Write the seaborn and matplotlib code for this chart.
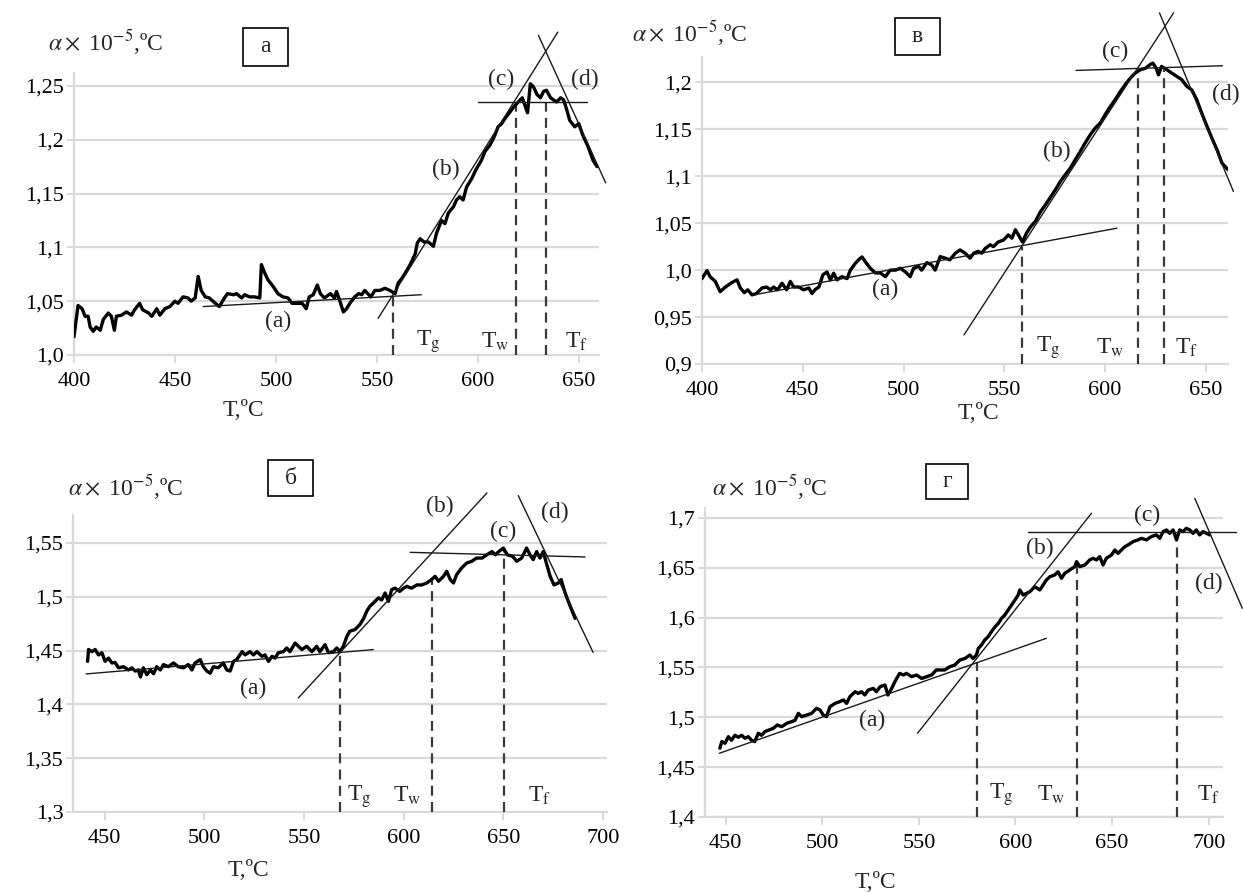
import pandas as pd
import matplotlib
matplotlib.use("Agg")
import matplotlib.pyplot as plt
from matplotlib.patches import Rectangle
import seaborn as sns

# ---- panel а ----
t_a = [400, 402, 404, 405.5, 407, 408, 409.5, 411, 413, 414.5, 417, 418.5, 420, 421, 423.5,
       426, 428.5, 430, 432.5, 434, 437, 438.5, 441, 442.5, 445, 447.5, 450, 451.5, 454, 456.5,
       458, 460, 461.5, 463, 465, 467, 470, 472, 474.5, 476, 479, 480.5, 483, 484.5, 487,
       489.5, 492, 492.8, 494.5, 496, 498.5, 501, 503.5, 506, 508, 510, 513, 515, 516.5, 518.5,
       520.5, 522, 524, 527, 529, 530, 531.7, 533.4, 535, 536.6, 539, 541, 542.5, 544, 547,
       549, 551.5, 554, 556.4, 559, 560.6, 562.3, 564, 566.5, 569, 570, 571.4, 573.4, 575.5, 578,
       579.5, 582, 583.7, 585.4, 588, 589.4, 591, 592.7, 594.4, 597, 599, 601.8, 603.5, 606, 608.4,
       610, 611.8, 613.5, 616, 618, 620, 622, 623.5, 624.6, 626, 627.6, 629.3, 631, 632.6, 634,
       636, 637.5, 639, 641, 642.5, 644, 645.5, 648, 650, 652, 654.5, 657, 659]
y_a = [1.017, 1.046, 1.043, 1.036, 1.036, 1.026, 1.022, 1.026, 1.023, 1.033, 1.039, 1.036, 1.023, 1.036, 1.037,
       1.040, 1.037, 1.042, 1.048, 1.042, 1.039, 1.036, 1.043, 1.037, 1.043, 1.045, 1.050, 1.048, 1.054, 1.053,
       1.050, 1.053, 1.073, 1.060, 1.054, 1.053, 1.048, 1.045, 1.053, 1.057, 1.056, 1.057, 1.053, 1.056, 1.054,
       1.054, 1.053, 1.084, 1.076, 1.070, 1.064, 1.057, 1.054, 1.053, 1.048, 1.048, 1.048, 1.043, 1.054, 1.056,
       1.065, 1.057, 1.053, 1.057, 1.053, 1.059, 1.050, 1.040, 1.043, 1.048, 1.054, 1.057, 1.056, 1.060, 1.054,
       1.060, 1.060, 1.062, 1.060, 1.057, 1.067, 1.071, 1.076, 1.084, 1.094, 1.104, 1.108, 1.105, 1.105, 1.101,
       1.113, 1.125, 1.122, 1.132, 1.138, 1.144, 1.147, 1.144, 1.156, 1.164, 1.172, 1.181, 1.189, 1.195, 1.204,
       1.212, 1.215, 1.220, 1.226, 1.231, 1.235, 1.239, 1.231, 1.225, 1.252, 1.249, 1.242, 1.239, 1.245, 1.246,
       1.239, 1.237, 1.235, 1.239, 1.237, 1.228, 1.218, 1.212, 1.215, 1.204, 1.194, 1.181, 1.175]

# ---- panel в ----
t_v = [400, 402.5, 404, 406.6, 409, 411.6, 415, 417.4, 419, 421, 422.7, 424.8, 427, 429.8, 432,
       434, 435.5, 437.5, 439.7, 442, 443.8, 445.5, 448, 450.4, 453, 454.6, 456, 458, 460, 462,
       463.7, 465.3, 467, 469.4, 472, 473.6, 476, 477.7, 479.4, 481, 483.5, 486, 488.5, 491, 493.4,
       496, 498.4, 501, 503.3, 505, 507.5, 509, 511.6, 514, 515.7, 518.2, 520.7, 523, 525.7, 528,
       530.6, 533, 534.8, 537, 538.8, 540.5, 543, 544.6, 547, 549.6, 552, 553.8, 555.5, 557, 559,
       561, 563, 565.4, 567.9, 570.4, 573, 575.3, 577.7, 580.2, 582.7, 585.2, 587.7, 590, 592.6, 595,
       597.6, 600, 602.5, 605, 607.5, 610, 612.5, 615, 617.5, 620, 622.4, 623.7, 625.4, 626.5, 628,
       630.7, 633, 635.6, 638, 640.6, 643, 645.5, 648, 650.6, 653, 655.6, 658, 661]
y_v = [0.991, 0.9995, 0.993, 0.988, 0.977, 0.982, 0.987, 0.9896, 0.981, 0.976, 0.979, 0.9736, 0.975, 0.981, 0.982,
       0.979, 0.982, 0.979, 0.986, 0.979, 0.988, 0.982, 0.982, 0.979, 0.981, 0.975, 0.979, 0.982, 0.995, 0.998,
       0.9896, 0.9967, 0.9896, 0.993, 0.991, 1.000, 1.007, 1.011, 1.014, 1.009, 1.002, 0.997, 0.997, 0.993, 1.000,
       1.000, 1.002, 0.998, 0.993, 1.002, 1.004, 1.000, 1.008, 1.0055, 1.000, 1.0144, 1.0127, 1.011, 1.018, 1.0215,
       1.018, 1.0127, 1.018, 1.020, 1.018, 1.023, 1.027, 1.025, 1.030, 1.032, 1.0375, 1.034, 1.043, 1.0375, 1.030,
       1.0393, 1.046, 1.052, 1.062, 1.0695, 1.078, 1.0855, 1.094, 1.1015, 1.1086, 1.1175, 1.1264, 1.135, 1.144, 1.151,
       1.1566, 1.1655, 1.174, 1.1815, 1.190, 1.1975, 1.2045, 1.210, 1.2134, 1.215, 1.219, 1.2205, 1.215, 1.208, 1.217,
       1.2134, 1.210, 1.2063, 1.203, 1.1957, 1.192, 1.1815, 1.167, 1.153, 1.1406, 1.128, 1.114, 1.107]

# ---- panel б ----
t_b = [441.5, 442, 443.7, 445.3, 447, 448.7, 450.3, 452, 453.7, 455.3, 457, 459.5, 462, 463.7, 465.4,
       467, 468, 469.5, 471.2, 473, 474.6, 476.2, 478, 479.6, 482, 484.6, 487, 489.6, 492, 493.8,
       495.4, 498, 499.6, 501.3, 503, 504.6, 507, 509.6, 511.3, 513, 514.7, 516.3, 519, 520.5, 523,
       524.7, 526.4, 529, 530.5, 532.2, 534, 535.5, 537.2, 539.7, 541.4, 543, 545.6, 547.2, 549,
       551.4, 554, 556.4, 558, 560.6, 562.3, 564.8, 566.5, 568, 569.8, 571.5, 573, 575.6, 578, 580,
       581.5, 583, 585.7, 587.4, 589, 590.7, 592.4, 594, 595.7, 598, 600, 601.6, 604, 606.6, 609,
       611.6, 614, 615.8, 617.5, 620, 621.6, 623.4, 625, 626.6, 629.2, 631.7, 634.2, 636.6, 639.4, 641.7,
       644.3, 646, 647.7, 650, 652, 654.7, 656.7, 659.2, 661.7, 663.4, 665, 666.7, 668.4, 670, 671.8,
       673.5, 675.4, 677.6, 679, 681, 683.6, 686]
y_b = [1.440, 1.451, 1.449, 1.451, 1.446, 1.448, 1.440, 1.443, 1.4385, 1.439, 1.434, 1.435, 1.432, 1.434, 1.431,
       1.432, 1.4255, 1.434, 1.4276, 1.432, 1.4285, 1.435, 1.432, 1.437, 1.435, 1.4385, 1.435, 1.434, 1.437, 1.432,
       1.4385, 1.4416, 1.435, 1.431, 1.429, 1.435, 1.434, 1.4385, 1.432, 1.431, 1.440, 1.4416, 1.449, 1.446, 1.449,
       1.446, 1.449, 1.4447, 1.446, 1.440, 1.4447, 1.443, 1.448, 1.449, 1.4524, 1.449, 1.457, 1.454, 1.451,
       1.454, 1.449, 1.454, 1.449, 1.4555, 1.448, 1.449, 1.4524, 1.449, 1.454, 1.463, 1.468, 1.4695, 1.474, 1.480,
       1.4865, 1.491, 1.4958, 1.499, 1.497, 1.5035, 1.4958, 1.5066, 1.508, 1.505, 1.508, 1.5097, 1.508, 1.511, 1.511,
       1.5128, 1.516, 1.519, 1.5144, 1.519, 1.5237, 1.516, 1.5128, 1.5206, 1.527, 1.5314, 1.533, 1.536, 1.536, 1.539,
       1.542, 1.539, 1.542, 1.5453, 1.539, 1.5376, 1.533, 1.536, 1.5453, 1.539, 1.5345, 1.542, 1.536, 1.542, 1.5299,
       1.519, 1.511, 1.5128, 1.516, 1.5035, 1.491, 1.480]

# ---- panel г ----
t_g = [447, 448, 449.7, 451.4, 453, 454.8, 456.5, 458.3, 460, 461.7, 463.4, 465, 466.9, 468.6, 470.3,
       472, 474.7, 476.7, 479, 481.6, 484, 485.9, 487.6, 489.3, 492, 494.5, 497, 498.8, 500.5, 502.2,
       504, 506.6, 509, 511, 512.6, 514.3, 517, 518.6, 520.3, 522, 523.8, 526.4, 528, 530, 532.4,
       534, 535.9, 537.6, 540, 542, 543.6, 546.2, 548.8, 551.4, 554, 556.6, 559, 563.4, 566, 568.6,
       571.2, 573.8, 576.4, 578, 579.8, 580.7, 582.4, 584.1, 585.9, 587.6, 589.3, 591, 592.8, 594.5, 596.2,
       598, 599.7, 601.4, 602.2, 604, 605.7, 607.4, 610, 612.6, 614.3, 616, 617.8, 620.3, 622, 623.8,
       625.5, 628.1, 630.7, 631.6, 633.3, 635.9, 638.4, 640.2, 641.9, 643.6, 645.3, 647, 649.7, 651.4, 653.1,
       654.8, 656.6, 658.3, 660.9, 663.4, 665.2, 667.8, 670.3, 672.9, 674.7, 676.4, 678.1, 679.8, 681.6, 683.3,
       685, 686.7, 688.4, 690.2, 691.9, 693.6, 695.3, 697.1, 698.8, 700.5]
y_g = [1.469, 1.4756, 1.474, 1.4806, 1.477, 1.482, 1.480, 1.482, 1.479, 1.4806, 1.477, 1.4756, 1.484, 1.482, 1.4856,
       1.487, 1.489, 1.4923, 1.4906, 1.494, 1.4956, 1.497, 1.504, 1.5007, 1.5023, 1.504, 1.509, 1.5074, 1.5023, 1.5007,
       1.5107, 1.514, 1.5157, 1.5174, 1.514, 1.5207, 1.5257, 1.524, 1.5257, 1.5224, 1.5274, 1.529, 1.5257, 1.5308, 1.5324,
       1.5224, 1.529, 1.5358, 1.5441, 1.5425, 1.5441, 1.5408, 1.5425, 1.539, 1.5408, 1.5425, 1.5475, 1.5475, 1.5508, 1.5525,
       1.5575, 1.559, 1.5625, 1.559, 1.5625, 1.569, 1.5726, 1.5776, 1.581, 1.586, 1.5906, 1.594, 1.5993, 1.6027, 1.6077,
       1.6127, 1.6177, 1.6227, 1.6278, 1.6227, 1.6244, 1.626, 1.631, 1.6278, 1.6328, 1.6378, 1.6411, 1.6428, 1.646, 1.6395,
       1.6445, 1.6478, 1.6512, 1.6562, 1.6512, 1.6528, 1.6579, 1.6595, 1.6579, 1.6612, 1.6528, 1.6595, 1.6629, 1.6679, 1.6645,
       1.6679, 1.6712, 1.673, 1.6763, 1.678, 1.6796, 1.678, 1.6813, 1.683, 1.6796, 1.6863, 1.688, 1.6846, 1.688, 1.678,
       1.688, 1.6863, 1.6896, 1.688, 1.6846, 1.688, 1.683, 1.6863, 1.6846, 1.683]

# tangents (a), (b), (c), (d): ([T0, T1], [alpha0, alpha1])
tan_a = [([464, 572], [1.045, 1.056]), ([550.6, 639.6], [1.034, 1.300]),
         ([600, 654], [1.235, 1.235]), ([630, 663.3], [1.297, 1.160])]
tan_v = [([425.6, 605.8], [0.9736, 1.0446]), ([530, 634], [0.931, 1.274]),
         ([585.6, 658.3], [1.2127, 1.2177]), ([627, 663.7], [1.274, 1.0837])]
tan_b = [([440.8, 584.8], [1.4283, 1.4509]), ([547.2, 641.8], [1.406, 1.5965]),
         ([603.3, 691], [1.5413, 1.537]), ([657.5, 695], [1.594, 1.4484])]
tan_g = [([446.7, 616], [1.4639, 1.5793]), ([549.3, 639.3], [1.484, 1.7047]),
         ([606.6, 714.3], [1.6863, 1.6863]), ([692.8, 717.4], [1.7197, 1.6094])]

# Tg, Tw, Tf markers: (T, alpha at top of dashed line)
vl_a = [(557.8, 1.054), (619, 1.234), (634, 1.235)]
vl_v = [(559, 1.025), (616.5, 1.213), (629.3, 1.213)]
vl_b = [(568, 1.448), (614, 1.516), (650.3, 1.5453)]
vl_g = [(580.3, 1.556), (632, 1.6545), (683.8, 1.683)]

# (a)(b)(c)(d) label positions, then Tg Tw Tf label positions
lab_a = [(501, 1.031), (584, 1.172), (611.7, 1.256), (653, 1.256), (575.5, 1.012), (608.5, 1.012), (649, 1.012)]
lab_v = [(491, 0.979), (576, 1.126), (605, 1.233), (659.7, 1.187), (571.8, 0.917), (602.4, 0.917), (640.5, 0.917)]
lab_b = [(524.7, 1.415), (618.3, 1.584), (650, 1.561), (675.9, 1.578), (578, 1.3146), (601.6, 1.3146), (668, 1.3146)]
lab_g = [(526, 1.497), (612.6, 1.6696), (668, 1.703), (700, 1.6345), (592.9, 1.422), (618.7, 1.422), (700, 1.422)]
label_texts = ["(a)", "(b)", "(c)", "(d)", r"T$_{\rm g}$", r"T$_{\rm w}$", r"T$_{\rm f}$"]

xticks_top = [400, 450, 500, 550, 600, 650]
xticks_bottom = [450, 500, 550, 600, 650, 700]
yticks_a = [1.0, 1.05, 1.1, 1.15, 1.2, 1.25]
ylabels_a = ["1,0", "1,05", "1,1", "1,15", "1,2", "1,25"]
yticks_v = [0.9, 0.95, 1.0, 1.05, 1.1, 1.15, 1.2]
ylabels_v = ["0,9", "0,95", "1,0", "1,05", "1,1", "1,15", "1,2"]
yticks_b = [1.3, 1.35, 1.4, 1.45, 1.5, 1.55]
ylabels_b = ["1,3", "1,35", "1,4", "1,45", "1,5", "1,55"]
yticks_g = [1.4, 1.45, 1.5, 1.55, 1.6, 1.65, 1.7]
ylabels_g = ["1,4", "1,45", "1,5", "1,55", "1,6", "1,65", "1,7"]
panel_names = ["а", "в", "б", "г"]

W, H = 1243, 892
sns.set_theme(style="white")
plt.rcParams["font.family"] = ["Liberation Serif", "DejaVu Serif"]
plt.rcParams["mathtext.fontset"] = "stix"

fig = plt.figure(figsize=(W / 100, H / 100), dpi=100)
GRID = "#d9d9d9"


def px_axes(l, r, t, b):
    return fig.add_axes([l / W, 1 - b / H, (r - l) / W, (b - t) / H])


def fig_xy(x, y):
    return x / W, 1 - y / H


panels = [
    dict(t=t_a, y=y_a, tan=tan_a, vl=vl_a, lab=lab_a, box=(74, 599, 73, 355),
         xlim=(400, 660), ylim=(1.0, 1.262), xt=xticks_top, yt=yticks_a, yl=ylabels_a,
         ylab=(48, 42), frame=(243, 288, 28, 66), xlab=(243, 410)),
    dict(t=t_v, y=y_v, tan=tan_v, vl=vl_v, lab=lab_v, box=(702, 1228, 57, 364),
         xlim=(400, 661), ylim=(0.9, 1.227), xt=xticks_top, yt=yticks_v, yl=ylabels_v,
         ylab=(632, 33), frame=(895, 940, 18, 55), xlab=(978, 413)),
    dict(t=t_b, y=y_b, tan=tan_b, vl=vl_b, lab=lab_b, box=(73, 607, 515, 812),
         xlim=(434.2, 702), ylim=(1.3, 1.576), xt=xticks_bottom, yt=yticks_b, yl=ylabels_b,
         ylab=(68, 487), frame=(268, 313, 460, 496), xlab=(248, 870)),
    dict(t=t_g, y=y_g, tan=tan_g, vl=vl_g, lab=lab_g, box=(705, 1223, 508, 817),
         xlim=(439.3, 707.4), ylim=(1.4, 1.71), xt=xticks_bottom, yt=yticks_g, yl=ylabels_g,
         ylab=(712, 487), frame=(926, 968, 464, 499), xlab=(875, 882)),
]

for name, p in zip(panel_names, panels):
    ax = px_axes(*p["box"])
    df = pd.DataFrame({"T": p["t"], "alpha": p["y"]})
    sns.lineplot(data=df, x="T", y="alpha", ax=ax, color="black", lw=2.4,
                 estimator=None, sort=False, zorder=4)

    for xs, ys in p["tan"]:
        ax.plot(xs, ys, color="#1a1a1a", lw=1.0, clip_on=False, zorder=5)
    for tx, top in p["vl"]:
        ax.plot([tx, tx], [p["ylim"][0], top], color="#3a3a3a", lw=1.6,
                ls=(0, (4.5, 2.8)), zorder=3)
    for txt, (tx, ty) in zip(label_texts, p["lab"]):
        ax.text(tx, ty, txt, ha="center", va="center", fontsize=17, clip_on=False, zorder=6)

    ax.set_xlim(*p["xlim"])
    ax.set_ylim(*p["ylim"])
    ax.set_xticks(p["xt"])
    ax.set_yticks(p["yt"])
    ax.set_yticklabels(p["yl"])
    ax.set_xlabel("")
    ax.set_ylabel("")
    ax.grid(axis="y", color=GRID, lw=1.6, zorder=0)
    ax.grid(axis="x", visible=False)
    ax.tick_params(axis="both", width=1.4, color=GRID, labelsize=16,
                   labelcolor="black", bottom=True, left=True)
    ax.tick_params(axis="x", length=6, pad=6)
    ax.tick_params(axis="y", length=5, pad=2)
    for side in ["top", "right"]:
        ax.spines[side].set_visible(False)
    for side in ["left", "bottom"]:
        ax.spines[side].set_color(GRID)
        ax.spines[side].set_linewidth(1.6)

    lx, ly = fig_xy(*p["ylab"])
    fig.text(lx, ly, r"$\alpha\times$ 10$^{-5}$,ºC", fontsize=17, ha="left", va="center")
    l, r, t, b = p["frame"]
    fig.add_artist(Rectangle(fig_xy(l, b), (r - l) / W, (b - t) / H,
                             transform=fig.transFigure, fill=False, ec="black", lw=1.2))
    cx, cy = fig_xy((l + r) / 2, (t + b) / 2)
    fig.text(cx, cy, name, fontsize=17, ha="center", va="center")
    xx, xy = fig_xy(*p["xlab"])
    fig.text(xx, xy, "T,ºC", fontsize=17, ha="center", va="center")

fig.savefig("out.png", dpi=100)
